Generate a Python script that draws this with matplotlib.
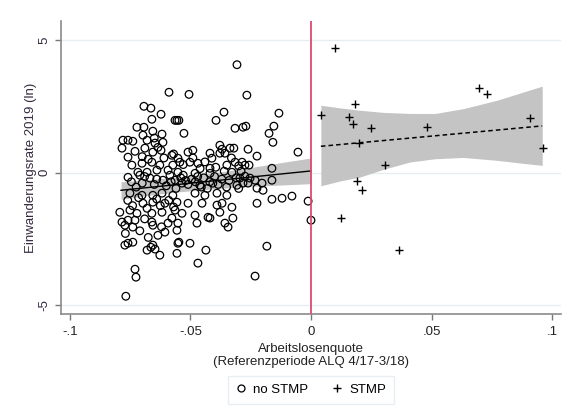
import numpy as np
import matplotlib
matplotlib.use("Agg")
import matplotlib.pyplot as plt
from matplotlib.lines import Line2D

plt.rcParams['font.family'] = ['Liberation Sans', 'DejaVu Sans']

# no STMP (circles): unemployment rate deviation, log immigration rate
nostmp_x = [
    -0.0589, -0.0693, -0.0664, -0.0622, -0.0660, -0.0564, -0.0722, -0.0693, -0.0656, -0.0618,
    -0.0697, -0.0680, -0.0647, -0.0614, -0.0780, -0.0759, -0.0739, -0.0784, -0.0689, -0.0656,
    -0.0622, -0.0577, -0.0552, -0.0759, -0.0743, -0.0701, -0.0660, -0.0627, -0.0573, -0.0718,
    -0.0680, -0.0639, -0.0593,
    -0.0307, -0.0506, -0.0556, -0.0548, -0.0394, -0.0361, -0.0315, -0.0282, -0.0527, -0.0378,
    -0.0369, -0.0336, -0.0320, -0.0510, -0.0490, -0.0419, -0.0378, -0.0357, -0.0544, -0.0502,
    -0.0469, -0.0411, -0.0419, -0.0349, -0.0315, -0.0286,
    -0.0266, -0.0133, -0.0270, -0.0154, -0.0174, -0.0158, -0.0261, -0.0224, -0.0054, -0.0162,
    -0.0274, -0.0257,
    -0.0224, -0.0162, -0.0120, -0.0079, -0.0012, 0.0000, -0.0183, -0.0232, -0.0224, -0.0199,
    -0.0162, -0.0203, -0.0274, -0.0253, -0.0261, -0.0232, -0.0295, -0.0282,
    -0.0772, -0.0759, -0.0739, -0.0730, -0.0726, -0.0768, -0.0680, -0.0664, -0.0656, -0.0647,
    -0.0627, -0.0556, -0.0552, -0.0635, -0.0606, -0.0759, -0.0710, -0.0668, -0.0614, -0.0585,
    -0.0564, -0.0751, -0.0701, -0.0656, -0.0618, -0.0573, -0.0697, -0.0656, -0.0606, -0.0793,
    -0.0751, -0.0722, -0.0660, -0.0618, -0.0564, -0.0784, -0.0759, -0.0730, -0.0660, -0.0577,
    -0.0772, -0.0739, -0.0656, -0.0593, -0.0556,
    -0.0548, -0.0502, -0.0436, -0.0469, -0.0552, -0.0473, -0.0419, -0.0357, -0.0344, -0.0324,
    -0.0328, -0.0378, -0.0369, -0.0552, -0.0481, -0.0419, -0.0328, -0.0535, -0.0461, -0.0407,
    -0.0307, -0.0481, -0.0440, -0.0390, -0.0349, -0.0556, -0.0510, -0.0452, -0.0390, -0.0535,
    -0.0481, -0.0427,
    -0.0745, -0.0725, -0.0700, -0.0690, -0.0650, -0.0640, -0.0600, -0.0580, -0.0560, -0.0540,
    -0.0530, -0.0520, -0.0510, -0.0495, -0.0480, -0.0470, -0.0455, -0.0445, -0.0430, -0.0420,
    -0.0400, -0.0385, -0.0370, -0.0350, -0.0340, -0.0310, -0.0300, -0.0290, -0.0610, -0.0570,
    -0.0530, -0.0490, -0.0460, -0.0440, -0.0395, -0.0360, -0.0330, -0.0300, -0.0760, -0.0740,
    -0.0715, -0.0680, -0.0640, -0.0625, -0.0590, -0.0570, -0.0620, -0.0690, -0.0710, -0.0675,
    -0.0770, -0.0700, -0.0730, -0.0675, -0.0650, -0.0635,
]
nostmp_y = [
    3.03, 2.50, 2.43, 2.20, 2.01, 1.97, 1.71, 1.71, 1.56, 1.45,
    1.41, 1.22, 1.11, 1.14, 1.22, 1.22, 1.18, 0.92, 0.92, 0.77,
    0.84, 0.65, 0.54, 0.58, 0.28, 0.35, 0.39, 0.28, 0.28, 0.01,
    0.01, 0.09, 0.09,
    4.07, 2.95, 1.97, 1.97, 1.97, 2.28, 1.67, 1.71, 1.48, 1.03,
    0.88, 0.92, 0.92, 0.77, 0.84, 0.73, 0.73, 0.73, 0.39, 0.39,
    0.35, 0.54, 0.16, 0.28, 0.39, 0.39,
    2.92, 2.24, 1.75, 1.75, 1.48, 1.14, 0.88, 0.62, 0.77, 0.16,
    0.28, 0.28,
    -1.16, -1.01, -0.97, -0.89, -1.08, -1.80, -2.78, -3.91, -0.59, -0.67,
    -0.29, -0.40, -0.14, -0.21, -0.40, -0.29, -0.21, -0.40,
    -2.74, -2.67, -2.63, -3.65, -3.95, -4.67, -2.93, -2.82, -2.74, -2.89,
    -3.12, -3.05, -2.67, -2.37, -2.25, -0.18, -0.10, -0.21, -0.29, -0.10,
    -0.29, -0.78, -0.86, -0.86, -0.78, -0.86, -1.16, -1.12, -1.16, -1.50,
    -1.42, -1.54, -1.54, -1.50, -1.42, -1.87, -1.80, -1.80, -1.87, -1.72,
    -1.99, -2.06, -1.99, -1.91, -2.18,
    -2.63, -2.67, -2.93, -3.42, -1.91, -1.91, -1.72, -1.91, -2.06, -1.72,
    -1.31, -1.50, -1.16, 0.01, -0.03, -0.03, 0.01, -0.40, -0.48, -0.40,
    -0.48, -0.78, -0.86, -0.78, -0.86, -1.12, -1.16, -1.16, -1.23, -1.54,
    -1.61, -1.69,
    -0.35, -0.55, -0.40, -0.15, -0.45, -0.25, -0.50, -0.35, -0.60, -0.20,
    -0.10, -0.30, -0.45, -0.25, -0.35, -0.15, -0.55, -0.20, -0.60, -0.35,
    -0.15, -0.45, -0.25, -0.55, -0.30, -0.20, -0.60, 0.05, 0.55, 0.70,
    0.30, 0.55, 0.15, 0.40, 0.20, 0.05, 0.55, 0.25, -1.05, -1.25,
    -0.95, -1.35, -1.00, -1.25, -1.05, -1.30, -2.05, -1.75, -2.20, -2.45,
    -2.30, 0.60, 0.80, 0.50, 1.30, 0.95,
]

# STMP (plus markers)
stmp_x = [0.0100, 0.0041, 0.0183, 0.0158, 0.0174, 0.0248, 0.0481, 0.0697, 0.0730,
          0.0909, 0.0963, 0.0199, 0.0307, 0.0191, 0.0212, 0.0124, 0.0365]
stmp_y = [4.69, 2.16, 2.58, 2.08, 1.82, 1.67, 1.71, 3.18, 2.95,
          2.04, 0.91, 1.10, 0.28, -0.33, -0.67, -1.72, -2.93]

# linear fits with 95% CI
fit_nostmp_x = [-0.0788, -0.0650, -0.0550, -0.0400, -0.0250, -0.0120, 0.0000]
fit_nostmp_y = [-0.67, -0.54, -0.45, -0.31, -0.17, -0.05, 0.06]
ci_nostmp_lo = [-1.01, -0.83, -0.73, -0.61, -0.52, -0.47, -0.42]
ci_nostmp_hi = [-0.35, -0.25, -0.17, -0.01, 0.19, 0.38, 0.55]

fit_stmp_x = [0.0041, 0.0120, 0.0203, 0.0300, 0.0411, 0.0515, 0.0631, 0.0772, 0.0867, 0.0959]
fit_stmp_y = [0.99, 1.06, 1.12, 1.22, 1.32, 1.41, 1.48, 1.62, 1.70, 1.76]
ci_stmp_lo = [-0.50, -0.32, -0.17, 0.12, 0.40, 0.52, 0.57, 0.46, 0.36, 0.27]
ci_stmp_hi = [2.54, 2.44, 2.35, 2.27, 2.23, 2.23, 2.41, 2.73, 3.00, 3.26]

xticks = [-0.1, -0.05, 0, 0.05, 0.1]
xtick_labels = ['-.1', '-.05', '0', '.05', '.1']
yticks = [-5, 0, 5]
ytick_labels = ['-5', '0', '5']

fig = plt.figure(figsize=(5.71, 4.20), dpi=100)
ax = fig.add_axes([0.1068, 0.2524, 0.8757, 0.6976])

band_col = '#c4c4c4'
ax.fill_between(fit_nostmp_x, ci_nostmp_lo, ci_nostmp_hi, color=band_col, lw=0, zorder=1)
ax.plot([fit_nostmp_x[0], fit_nostmp_x[-1]], [fit_nostmp_y[0], fit_nostmp_y[-1]],
        color='black', lw=1.0, zorder=2)

ax.fill_between(fit_stmp_x, ci_stmp_lo, ci_stmp_hi, color=band_col, lw=0, zorder=1)
ax.plot([fit_stmp_x[0], fit_stmp_x[-1]], [fit_stmp_y[0], fit_stmp_y[-1]],
        color='black', lw=1.1, ls=(0, (3, 2)), zorder=2)

ax.scatter(nostmp_x, nostmp_y, s=30, facecolors='none', edgecolors='black',
           linewidths=0.9, zorder=3)
ax.scatter(stmp_x, stmp_y, s=36, marker='+', color='black', linewidths=1.0, zorder=3)

ax.axvline(0, color='#dc4b6e', lw=1.3, zorder=4)

ax.set_xlim(-0.1037, 0.1037)
ax.set_ylim(-5.34, 5.72)
for yv in yticks:
    ax.axhline(yv, color='#e6eff0', lw=1.0, zorder=0)

ax.set_xticks(xticks)
ax.set_xticklabels(xtick_labels)
ax.set_yticks(yticks)
ax.set_yticklabels(ytick_labels, rotation=90, va='center')
ax.tick_params(colors='#777777', labelcolor='#222222', labelsize=9.5, length=4, width=1)
ax.tick_params(axis='x', pad=5)
ax.tick_params(axis='y', labelcolor='#34293f')

for side in ['top', 'right']:
    ax.spines[side].set_visible(False)
for side in ['left', 'bottom']:
    ax.spines[side].set_color('#8a8a8a')
    ax.spines[side].set_linewidth(1.2)

ax.set_xlabel('Arbeitslosenquote\n(Referenzperiode ALQ 4/17-3/18)', fontsize=9.5,
              color='#222222', labelpad=3, linespacing=1.1)
ax.set_ylabel('Einwanderungsrate 2019 (ln)', fontsize=9.5, color='#34293f', labelpad=1)

handles = [
    Line2D([], [], ls='none', marker='o', mfc='none', mec='black', ms=5, mew=0.9),
    Line2D([], [], ls='none', marker='+', color='black', ms=6, mew=1.0),
]
leg = fig.legend(handles, ['no STMP', 'STMP'], loc='center', bbox_to_anchor=(0.545, 0.072),
                 ncol=2, frameon=True, fontsize=9.5, handlelength=0.8, handletextpad=0.5,
                 columnspacing=1.8, borderpad=0.6, fancybox=False)
leg.get_frame().set_edgecolor('#e3eaee')
leg.get_frame().set_linewidth(1.0)

fig.savefig('out.png', dpi=100)
